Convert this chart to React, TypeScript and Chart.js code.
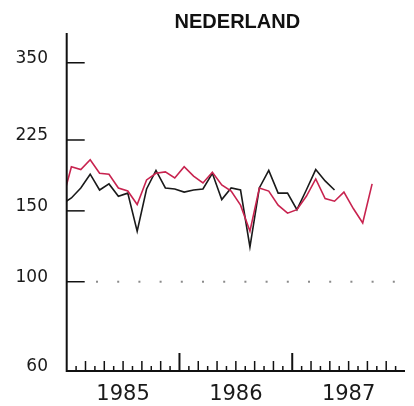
import React, { useEffect, useRef } from 'react';
import { Chart, registerables } from 'chart.js';

Chart.register(...registerables);

const TITLE = 'NEDERLAND';

// Monthly observations, Dec 1984 .. Sep 1987
const months = [
  'dec 1984',
  'jan 1985', 'feb 1985', 'mrt 1985', 'apr 1985', 'mei 1985', 'jun 1985',
  'jul 1985', 'aug 1985', 'sep 1985', 'okt 1985', 'nov 1985', 'dec 1985',
  'jan 1986', 'feb 1986', 'mrt 1986', 'apr 1986', 'mei 1986', 'jun 1986',
  'jul 1986', 'aug 1986', 'sep 1986', 'okt 1986', 'nov 1986', 'dec 1986',
  'jan 1987', 'feb 1987', 'mrt 1987', 'apr 1987', 'mei 1987', 'jun 1987',
  'jul 1987', 'aug 1987', 'sep 1987',
];

const seriesRed = [
  158,
  193, 190, 201, 186, 185, 171, 168, 155.5, 179, 186, 187.5, 181,
  193, 183, 176, 187, 174, 168, 155, 133.5, 171, 168, 155, 148,
  151, 163, 180, 161, 158.5, 167, 152, 140, 175,
];

const seriesBlack = [
  156,
  161.5, 171, 185, 169, 175, 163, 166, 133.5, 170, 189, 171, 170,
  167, 169, 170, 186, 160, 171, 169, 122, 171, 189, 166, 166,
  151, 169, 190, 178, 169,
];

const yTickValues = [60, 100, 150, 225, 350];
const yearLabels = ['1985', '1986', '1987'];
const Y_MIN = 60;
const Y_MAX = 415;

// month index: Jan 1985 starts at 0; each observation sits mid-month
const toPoints = (vals: number[]) => vals.map((v, i) => ({ x: i - 0.5, y: v }));

const axesPlugin = {
  id: 'axesPlugin',
  afterDatasetsDraw(chart: any) {
    const { ctx, chartArea, scales } = chart;
    const xs = scales.x;
    const ys = scales.y;
    const { left, right, top, bottom } = chartArea;
    ctx.save();

    // title
    ctx.fillStyle = '#111';
    ctx.font = 'bold 20px "Liberation Sans", Arial, sans-serif';
    ctx.textAlign = 'center';
    ctx.textBaseline = 'middle';
    ctx.fillText(TITLE, (left + right) / 2 + 1.5, 22);

    // axes lines
    ctx.strokeStyle = '#111';
    ctx.lineWidth = 2;
    ctx.beginPath();
    ctx.moveTo(left, top);
    ctx.lineTo(left, bottom);
    ctx.lineTo(right, bottom);
    ctx.stroke();

    // y ticks (inward) and labels
    ctx.lineWidth = 1.5;
    ctx.font = '17px "DejaVu Sans", sans-serif';
    ctx.textAlign = 'right';
    ctx.textBaseline = 'middle';
    ctx.fillStyle = '#1a1a1a';
    yTickValues.forEach((v) => {
      const py = ys.getPixelForValue(v);
      if (v !== Y_MIN) {
        ctx.beginPath();
        ctx.moveTo(left, py);
        ctx.lineTo(left + 18, py);
        ctx.stroke();
      }
      ctx.fillText(String(v), 48, py - 4);
    });

    // dotted reference line at 100
    const p100 = ys.getPixelForValue(100);
    ctx.fillStyle = '#8a8a8a';
    for (let xx = 96; xx < right - 5; xx += 21.2) {
      ctx.fillRect(xx, p100 - 1, 2, 2);
    }

    // month ticks
    ctx.strokeStyle = '#111';
    ctx.lineWidth = 1.5;
    const nMonths = yearLabels.length * 12;
    for (let m = 1; m < nMonths; m++) {
      const px = xs.getPixelForValue(m);
      const h = m % 12 === 0 ? 18 : m % 2 === 0 ? 10 : 5;
      ctx.lineWidth = m % 12 === 0 ? 2 : 1.5;
      ctx.beginPath();
      ctx.moveTo(px, bottom);
      ctx.lineTo(px, bottom - h);
      ctx.stroke();
    }

    // year labels
    ctx.fillStyle = '#1a1a1a';
    ctx.font = '21px "DejaVu Sans", sans-serif';
    ctx.textAlign = 'center';
    ctx.textBaseline = 'middle';
    yearLabels.forEach((lab, j) => {
      const px = xs.getPixelForValue(6 + 12 * j);
      ctx.fillText(lab, px, 395);
    });

    ctx.restore();
  },
};

export default function App() {
  const ref = useRef<HTMLCanvasElement | null>(null);

  useEffect(() => {
    if (!ref.current) return;
    const chart = new Chart(ref.current, {
      type: 'line',
      data: {
        labels: months,
        datasets: [
          {
            label: 'rood',
            data: toPoints(seriesRed),
            borderColor: '#c8234f',
            borderWidth: 1.6,
            pointRadius: 0,
            tension: 0,
            fill: false,
          },
          {
            label: 'zwart',
            data: toPoints(seriesBlack),
            borderColor: '#1a1a1a',
            borderWidth: 1.6,
            pointRadius: 0,
            tension: 0,
            fill: false,
          },
        ],
      },
      options: {
        responsive: false,
        animation: false,
        devicePixelRatio: 1,
        layout: { padding: { left: 66.7, right: 9, top: 33, bottom: 35 } },
        plugins: {
          legend: { display: false },
          title: { display: false },
          tooltip: { enabled: false },
        },
        scales: {
          x: { type: 'linear', min: 0, max: 36, display: false },
          y: { type: 'logarithmic', min: Y_MIN, max: Y_MAX, display: false },
        },
      },
      plugins: [axesPlugin],
    });
    return () => chart.destroy();
  }, []);

  return (
    <div style={{ position: 'absolute', left: 0, top: 0, width: 414, height: 406, background: '#fff' }}>
      <canvas ref={ref} width={414} height={406} style={{ display: 'block' }} />
    </div>
  );
}
